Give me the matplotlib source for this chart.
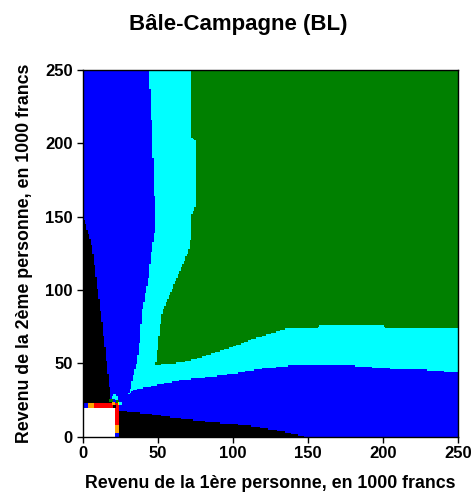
import numpy as np
import matplotlib.pyplot as plt
from matplotlib.colors import ListedColormap

plt.rcParams['font.family'] = ['Liberation Sans', 'DejaVu Sans']
plt.rcParams['font.weight'] = 'bold'

# category colours: 0 white, 1 black, 2 blue, 3 cyan, 4 green, 5 red, 6 orange, 7 yellow
colors = ['#ffffff', '#000000', '#0000ff', '#00ffff', '#008000', '#ff0000', '#ffa500', '#ffff00']

# region boundaries, in 1000 francs
white_x, white_y = 21.5, 20.5
red_end = 24.4
red_top = 22.7

black_left_y = [20.5, 30, 57, 86, 111, 129.5, 150]
black_left_x = [19, 18, 15, 11.5, 8.2, 6, 0]

black_bot_x = [24.4, 42.6, 64.7, 84.7, 109, 129, 145, 150]
black_bot_y = [18, 16, 12.5, 10, 8, 4.5, 1, 0]

cyan_left_y = [29.5, 33, 43, 52, 66, 84, 98, 109, 123, 139, 152, 177, 204, 232, 250]
cyan_left_x = [30.5, 31.5, 33.7, 36, 37.7, 39, 41.5, 43.7, 45, 47.5, 48, 47, 46, 44.8, 43.7]

cyan_bot_x = [30.5, 33.7, 42.6, 51.4, 64.7, 84.7, 100, 120, 140, 175.6, 202, 228.8, 250]
cyan_bot_y = [29.5, 32, 34, 36, 38.6, 41, 43, 46.6, 49, 49, 46.6, 45.5, 43.6]

green_left_y = [49, 52, 68, 84, 98, 111, 127, 139, 152, 157, 202, 204, 250]
green_left_x = [47.5, 48.8, 50.3, 52.5, 58, 63.6, 70.3, 72.5, 72.5, 74.7, 74.7, 72.5, 72.5]

green_bot_x = [47.5, 66.5, 75.8, 86.9, 102.4, 113.5, 120.2, 135.7, 155.7, 157.6, 200, 202, 250]
green_bot_y = [49, 51, 53.4, 57, 62.5, 67, 69, 74, 74, 75.7, 75.7, 74, 74]

# odd cells around the corner of the white square (x, y, category)
cross_x = [20, 21, 22, 22, 18, 19, 23, 24, 20, 25, 21]
cross_y = [27, 28, 27, 26, 25, 25, 24, 23, 23, 23, 21]
cross_c = [3, 3, 3, 3, 4, 4, 4, 7, 6, 3, 1]

step = 1.0
xs = np.arange(step / 2, 250, step)
X, Y = np.meshgrid(xs, xs)

cat = np.full(X.shape, 2)
cyan = (X >= np.interp(Y, cyan_left_y, cyan_left_x, left=np.inf)) & \
       (Y >= np.interp(X, cyan_bot_x, cyan_bot_y, left=np.inf))
cat[cyan] = 3
green = (X >= np.interp(Y, green_left_y, green_left_x, left=np.inf)) & \
        (Y >= np.interp(X, green_bot_x, green_bot_y, left=np.inf))
cat[green] = 4
cat[X < np.interp(Y, black_left_y, black_left_x, left=black_left_x[0], right=0)] = 1
cat[(X >= red_end) & (Y < np.interp(X, black_bot_x, black_bot_y, left=0, right=0))] = 1
cat[(X < white_x) & (Y < white_y)] = 0

# red edge along top and right of the white square
top = (Y >= white_y) & (Y < red_top) & (X < red_end)
cat[top & (X >= 7)] = 5
cat[top & (X >= 2.6) & (X < 7)] = 6
cat[top & (X < 2.6)] = 2
side = (X >= white_x) & (X < red_end) & (Y < red_top)
cat[side & (Y >= 8)] = 5
cat[side & (Y >= 3.5) & (Y < 8)] = 6
cat[side & (Y < 3.5)] = 2
for cx, cy, cc in zip(cross_x, cross_y, cross_c):
    cat[(np.abs(X - cx) < 0.6) & (np.abs(Y - cy) < 0.6)] = cc

fig = plt.figure(figsize=(4.76, 4.98), dpi=100)
ax = fig.add_axes([0.1737, 0.1231, 0.789, 0.7363])
ax.imshow(cat, origin='lower', extent=[0, 250, 0, 250], cmap=ListedColormap(colors),
          vmin=-0.5, vmax=7.5, interpolation='nearest', aspect='auto')
ax.set_xlim(0, 250)
ax.set_ylim(0, 250)
ax.set_xticks([0, 50, 100, 150, 200, 250])
ax.set_yticks([0, 50, 100, 150, 200, 250])
ax.tick_params(direction='out', length=4, width=1, labelsize=12, pad=3)
for s in ax.spines.values():
    s.set_linewidth(1)
ax.set_xlabel('Revenu de la 1ère personne, en 1000 francs', fontsize=12.8, fontweight='bold', labelpad=10)
ax.set_ylabel('Revenu de la 2ème personne, en 1000 francs', fontsize=12.8, fontweight='bold', labelpad=9)
fig.text(0.5, 1 - 30 / 498, 'Bâle-Campagne (BL)', fontsize=16, fontweight='bold',
         ha='center', va='baseline')

fig.savefig('out.png', dpi=100)
